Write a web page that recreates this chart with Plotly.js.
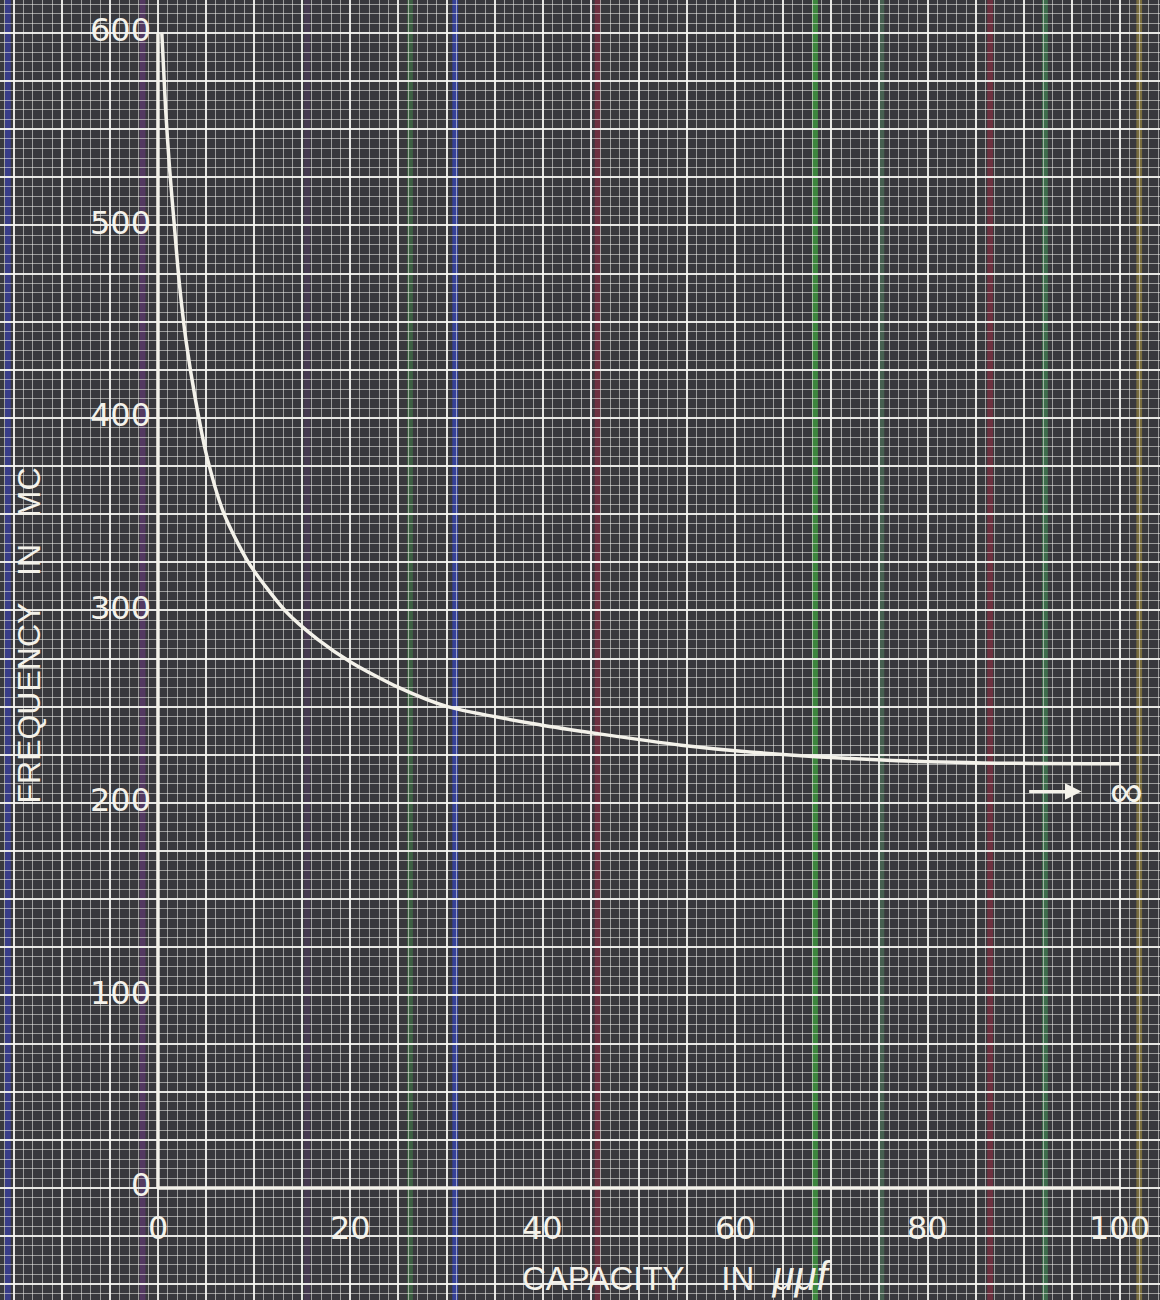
<!DOCTYPE html>
<html><head><meta charset="utf-8">
<script src="https://cdn.plot.ly/plotly-3.0.1.min.js"></script>
<style>html,body{margin:0;padding:0;background:#39393d}#chart{width:1160px;height:1300px}</style>
</head><body><div id="chart"></div>
<script>
// Curve
const capacity  = [0.4, 0.8, 1.2, 1.7, 2.22, 2.92, 3.88, 5.08, 6.88, 9.4, 13.2, 16.6, 20.1, 25.0, 30.1, 39.8, 45.7, 54.4, 61.5, 75.3, 85.7, 100];
const frequency = [600, 560, 530, 500, 470, 440, 410, 380, 350, 325, 300, 285, 273, 260, 250, 240.5, 236.0, 230, 226.5, 222.3, 220.8, 220.3];

const xTickVals = [0, 20, 40, 60, 80, 100];
const xTickText = ['0', '20', '40', '60', '80', '100'];
const yTickVals = [0, 100, 200, 300, 400, 500, 600];
const yTickText = ['0', '100', '200', '300', '400', '500', '600'];
const xTitleText = 'CAPACITY&nbsp;&nbsp;&nbsp;&nbsp;IN&nbsp;&nbsp;<i><span style="font-size:40px">μμf</span></i>';
const yTitleText = 'FREQUENCY&nbsp;&nbsp;&nbsp;IN&nbsp;&nbsp;&nbsp;MC';
const infinityLabel = '∞';

// scanner colour streaks on the graph paper (x position, colour)
const streakX = [-15.6, -1.6, 15.5, 26.2, 30.9, 45.7, 68.3, 75.2, 86.5, 92.2, 102.0];
const streakColor = ['#3a3f9a', '#5a3a6a', '#4a3a55', '#3f6a45', '#3444b0', '#7a3040', '#3f9a3f', '#4a6a55', '#7a3040', '#3f7a50', '#8a7a40'];

const white = '#f4f2ea';
const font = 'DejaVu Sans, Verdana, sans-serif';
const titleFont = 'Liberation Sans, Arial, sans-serif';

const shapes = [];
streakX.forEach((x, i) => {
  shapes.push({type: 'rect', layer: 'below', xref: 'x', yref: 'paper', x0: x - 0.3, x1: x + 0.3, y0: 0, y1: 1,
    fillcolor: streakColor[i], opacity: 0.8, line: {width: 0}});
});
// main axes of the chart
shapes.push({type: 'line', xref: 'x', yref: 'y', x0: 0, x1: 0, y0: yTickVals[0], y1: yTickVals[yTickVals.length - 1], line: {color: white, width: 3.5}});
shapes.push({type: 'line', xref: 'x', yref: 'y', x0: 0, x1: xTickVals[xTickVals.length - 1], y0: 0, y1: 0, line: {color: white, width: 3.5}});

const annotations = [];
xTickVals.forEach((v, i) => annotations.push({x: v, y: -20.8, xref: 'x', yref: 'y', text: xTickText[i], showarrow: false,
  xanchor: 'center', yanchor: 'middle', font: {family: font, size: 32, color: white}}));
yTickVals.forEach((v, i) => annotations.push({x: -0.5, y: v + 1.5, xref: 'x', yref: 'y', text: yTickText[i], showarrow: false,
  xanchor: 'right', yanchor: 'middle', font: {family: font, size: 32, color: white}}));
annotations.push({x: 37.6, y: -45.5, xref: 'x', yref: 'y', text: xTitleText, showarrow: false, xanchor: 'left', yanchor: 'middle',
  font: {family: titleFont, size: 33, color: white}});
annotations.push({x: -13.4, y: 287, xref: 'x', yref: 'y', text: yTitleText, showarrow: false, textangle: -90,
  xanchor: 'center', yanchor: 'middle', font: {family: titleFont, size: 32, color: white}});
annotations.push({x: 100.7, y: 206, xref: 'x', yref: 'y', text: infinityLabel, showarrow: false, xanchor: 'center', yanchor: 'middle',
  font: {family: 'Liberation Sans, Arial, sans-serif', size: 46, color: white}});
annotations.push({x: 96.0, y: 206, xref: 'x', yref: 'y', ax: 90.4, ay: 206, axref: 'x', ayref: 'y', text: '', showarrow: true,
  arrowhead: 2, arrowsize: 1.1, arrowwidth: 3, arrowcolor: white});

const trace = {
  x: capacity, y: frequency, type: 'scatter', mode: 'lines',
  line: {color: white, width: 3.5, shape: 'spline', smoothing: 0.7},
  hoverinfo: 'skip', showlegend: false
};

const layout = {
  width: 1160, height: 1300, autosize: false,
  margin: {l: 0, r: 0, t: 0, b: 0, pad: 0},
  paper_bgcolor: '#39393d', plot_bgcolor: '#39393d',
  showlegend: false,
  xaxis: {range: [-16.42, 104.16], tick0: 0, dtick: 5, showticklabels: false, ticks: '', zeroline: false, showline: false,
    showgrid: true, gridcolor: 'rgba(250,250,245,0.9)', gridwidth: 2,
    minor: {tick0: 0, dtick: 1, showgrid: true, gridcolor: 'rgba(240,240,235,0.55)', gridwidth: 1}},
  yaxis: {range: [-58.2, 617.1], tick0: 0, dtick: 25, showticklabels: false, ticks: '', zeroline: false, showline: false,
    showgrid: true, gridcolor: 'rgba(250,250,245,0.9)', gridwidth: 2,
    minor: {tick0: 0, dtick: 5, showgrid: true, gridcolor: 'rgba(240,240,235,0.55)', gridwidth: 1}},
  shapes: shapes,
  annotations: annotations
};

Plotly.newPlot('chart', [trace], layout, {displayModeBar: false, staticPlot: true});
</script>
</body></html>
